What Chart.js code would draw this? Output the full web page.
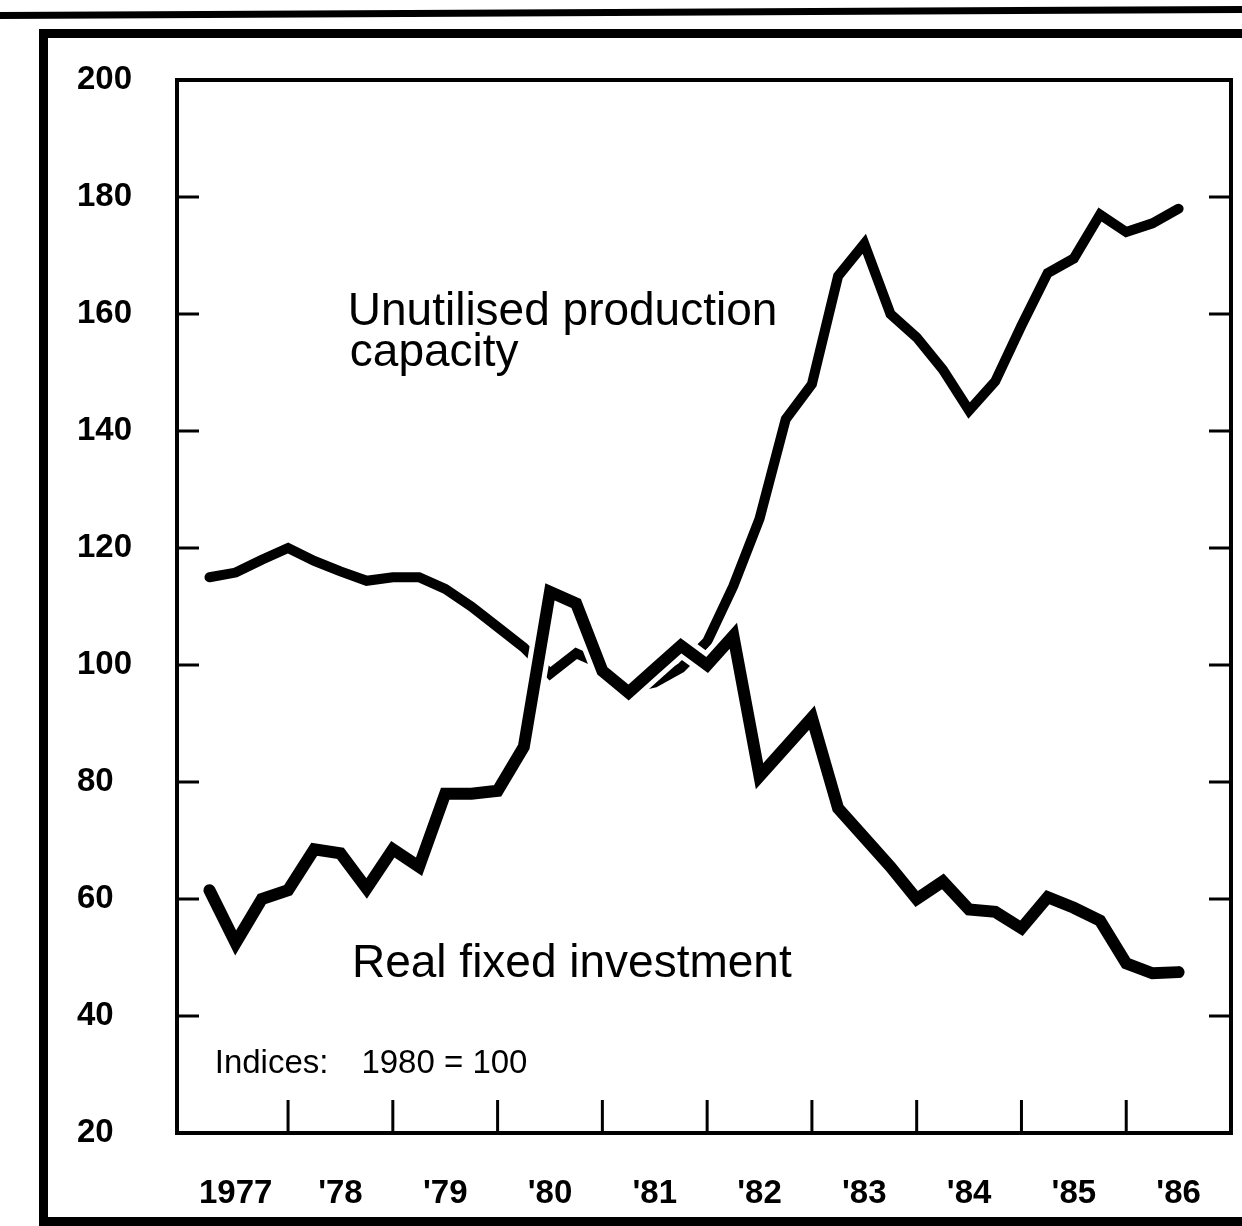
<!DOCTYPE html>
<html>
<head>
<meta charset="utf-8">
<script src="https://cdn.jsdelivr.net/npm/chart.js@4.4.1/dist/chart.umd.min.js"></script>
<style>
  html, body { margin: 0; padding: 0; background: #fff; }
  #page { position: relative; width: 1242px; height: 1226px; overflow: hidden; background: #fff; }
  #rule { position: absolute; left: -10px; top: 9px; width: 1270px; height: 7px; background: #000; transform: rotate(-0.28deg); }
  #frame { position: absolute; left: 39px; top: 29px; width: 1230px; height: 1197px; border: 9px solid #000; box-sizing: border-box; }
  #chart { position: absolute; left: 0; top: 0; }
</style>
</head>
<body>
<div id="page">
  <div id="rule"></div>
  <div id="frame"></div>
  <canvas id="chart" width="1242" height="1226"></canvas>
</div>
<script>
// quarterly indices, 1980 = 100; first value is 1977 Q1, plotted at quarter end
const firstYear = 1977;
const capacity = [115, 115.8, 118, 120, 117.8, 116, 114.4, 115, 115, 113, 110, 106.5,
  103, 98.5, 102, 100, 96, 97, 99.5, 104, 113.5, 125, 142, 148,
  166.5, 172, 160, 156, 150.5, 143.5, 148.5, 158, 167, 169.5, 177, 174, 175.5, 178];
const investment = [61.5, 52.5, 60, 61.5, 68.5, 67.8, 61.8, 68.5, 65.5, 78, 78, 78.5,
  86, 112.5, 110.5, 99, 95.3, 99.3, 103.3, 100, 105, 81, 86, 91,
  75.5, 70.5, 65.5, 60, 63, 58.2, 57.8, 55, 60.3, 58.5, 56.3, 49, 47.3, 47.5];

const yearLabels = ['1977', "'78", "'79", "'80", "'81", "'82", "'83", "'84", "'85", "'86"];
const yTicks = [20, 40, 60, 80, 100, 120, 140, 160, 180, 200];

const quarterEnd = i => firstYear + (i + 1) / 4;
const toPoints = arr => arr.map((v, i) => ({ x: quarterEnd(i), y: v }));
const capPts = toPoints(capacity);
const invPts = toPoints(investment);

Chart.defaults.font.family = "'Liberation Sans', Arial, sans-serif";
Chart.defaults.color = '#000';

// frame, inward tick marks and the text notes
const decorations = {
  id: 'decorations',
  afterDraw(chart) {
    const { ctx, chartArea: a, scales: { x, y } } = chart;
    ctx.save();
    ctx.strokeStyle = '#000';
    ctx.lineWidth = 4;
    ctx.strokeRect(a.left, a.top, a.right - a.left, a.bottom - a.top);

    ctx.lineWidth = 3;
    ctx.beginPath();
    yTicks.slice(1, -1).forEach(v => {
      const py = y.getPixelForValue(v);
      ctx.moveTo(a.left, py); ctx.lineTo(a.left + 22, py);
      ctx.moveTo(a.right, py); ctx.lineTo(a.right - 22, py);
    });
    for (let yr = firstYear + 1; yr < firstYear + yearLabels.length; yr++) {
      const px = x.getPixelForValue(yr);
      ctx.moveTo(px, a.bottom); ctx.lineTo(px, a.bottom - 33);
    }
    ctx.stroke();

    ctx.fillStyle = '#000';
    ctx.textBaseline = 'alphabetic';
    ctx.textAlign = 'left';
    ctx.font = "46px 'Liberation Sans', Arial, sans-serif";
    ctx.fillText('Unutilised production', x.getPixelForValue(1978.57), y.getPixelForValue(158.1));
    ctx.fillText('capacity', x.getPixelForValue(1978.59), y.getPixelForValue(151.1));
    ctx.fillText('Real fixed investment', x.getPixelForValue(1978.61), y.getPixelForValue(46.7));
    ctx.font = "33px 'Liberation Sans', Arial, sans-serif";
    ctx.fillText('Indices:', x.getPixelForValue(1977.30), y.getPixelForValue(30.3));
    ctx.fillText('1980 = 100', x.getPixelForValue(1978.70), y.getPixelForValue(30.3));
    ctx.restore();
  }
};

new Chart(document.getElementById('chart'), {
  type: 'line',
  data: {
    datasets: [
      { label: 'Real fixed investment', data: invPts, borderColor: '#000', borderWidth: 12,
        borderJoinStyle: 'miter', borderCapStyle: 'round', order: 1 },
      // white edging so the other line breaks where they cross
      { label: '', data: invPts, borderColor: '#fff', borderWidth: 22,
        borderJoinStyle: 'round', borderCapStyle: 'round', order: 2 },
      { label: 'Unutilised production capacity', data: capPts, borderColor: '#000', borderWidth: 10,
        borderJoinStyle: 'miter', borderCapStyle: 'round', order: 3 }
    ]
  },
  options: {
    responsive: false,
    animation: false,
    layout: { padding: { left: 77, top: 80, right: 11, bottom: 0 } },
    elements: { point: { radius: 0 }, line: { tension: 0 } },
    plugins: { legend: { display: false }, tooltip: { enabled: false } },
    scales: {
      x: {
        type: 'linear',
        min: 1976.94,
        max: 1987,
        grid: { display: false },
        border: { display: false },
        afterFit: s => { s.height = 93; },
        afterBuildTicks: s => { s.ticks = yearLabels.map((_, i) => ({ value: firstYear + i + 0.5 })); },
        ticks: {
          autoSkip: false,
          maxRotation: 0,
          padding: 33,
          font: { size: 33, weight: 'bold' },
          callback: v => yearLabels[Math.floor(v) - firstYear]
        }
      },
      y: {
        min: 20,
        max: 200,
        grid: { display: false },
        border: { display: false },
        afterFit: s => { s.width = 100; },
        ticks: {
          stepSize: 20,
          crossAlign: 'far',
          font: { size: 33, weight: 'bold' }
        }
      }
    }
  },
  plugins: [decorations]
});
</script>
</body>
</html>
